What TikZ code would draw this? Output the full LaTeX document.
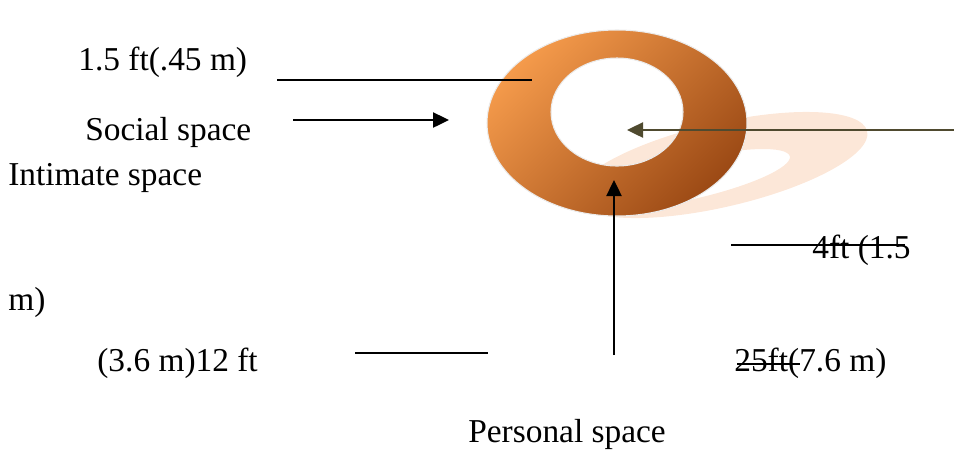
\documentclass[tikz,border=0pt]{standalone}
\usepackage{fontspec}
\setmainfont{Liberation Serif}
\usetikzlibrary{arrows.meta,positioning}
\definecolor{gyuru1}{HTML}{F49A4B}
\definecolor{gyuru2}{HTML}{9C4A15}
\definecolor{arnyek}{HTML}{FCE7D8}
\definecolor{oliva}{HTML}{4F4A2F}
\tikzset{
  felirat/.style={anchor=base west,inner sep=0pt,font=\fontsize{19}{23}\selectfont},
  nyil/.style={-{Triangle[length=3.2mm,width=3mm]},line width=1.4pt},
  vonal/.style={line width=1.1pt},
}
\begin{document}
\begin{tikzpicture}[x=0.02cm,y=-0.02cm]
  \useasboundingbox (0,0) rectangle (954,451);
  % shadow of the ring
  \fill[arnyek,even odd rule,rotate around={13:(721,165)}]
    (721,165) ellipse [x radius=150,y radius=42]
    (690,172) ellipse [x radius=100,y radius=20];
  % the ring
  \shade[even odd rule,top color=gyuru1,bottom color=gyuru2,shading angle=45]
    (617,123) ellipse [x radius=130,y radius=93]
    (617,112) ellipse [x radius=66,y radius=54];
  \draw[black!8,line width=0.6pt] (617,123) ellipse [x radius=130,y radius=93]
    (617,112) ellipse [x radius=66,y radius=54];

  % labels
  \node[felirat] (tav1) at (78,70) {1.5 ft(.45 m)};
  \node[felirat] (tars) at (85,140) {Social space};
  \node[felirat] (intim) at (8,185) {Intimate space};
  \node[felirat] (tav4) at (812,258) {4ft (1.5};
  \node[felirat] (tav4b) at (8,310) {m)};
  \node[felirat] (tav12) at (97,371) {(3.6 m)12 ft};
  \node[felirat] (tav25) at (734,371) {25ft(7.6 m)};
  \node[felirat] (szem) at (468,442) {Personal space};

  % connectors
  \coordinate (a1) at (277,80);  \coordinate (b1) at (532,80);
  \coordinate (a2) at (293,120); \coordinate (b2) at (449,120);
  \coordinate (a3) at (954,130); \coordinate (b3) at (627,130);
  \coordinate (a4) at (614,355); \coordinate (b4) at (614,180);
  \coordinate (a5) at (731,245); \coordinate (b5) at (905,245);
  \coordinate (a6) at (355,353); \coordinate (b6) at (488,353);
  \coordinate (a7) at (737,364); \coordinate (b7) at (800,364);
  \draw[vonal] (a1) -- (b1);
  \draw[nyil] (a2) -- (b2);
  \draw[nyil,oliva] (a3) -- (b3);
  \draw[nyil] (a4) -- (b4);
  \draw[vonal] (a5) -- (b5);
  \draw[vonal] (a6) -- (b6);
  \draw[vonal] (a7) -- (b7);
\end{tikzpicture}
\end{document}
